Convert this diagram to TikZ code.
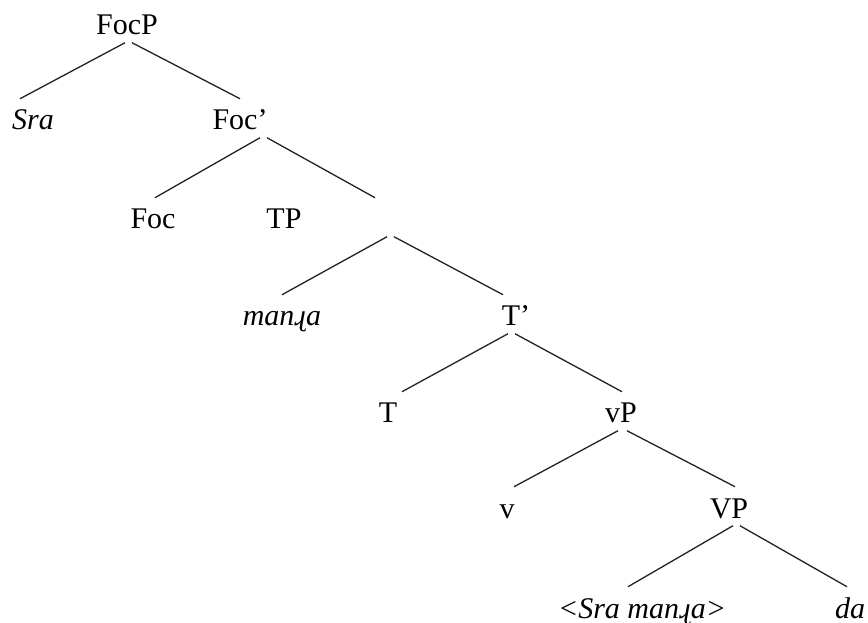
\documentclass[tikz,border=0pt]{standalone}
\usepackage{fontspec}
\setmainfont{Liberation Serif}
\usetikzlibrary{calc}

\tikzset{
  lbl/.style={anchor=base,inner sep=0pt,text height=23.25pt,text depth=5.6pt,
    font=\fontsize{22.5pt}{27pt}\selectfont},
  branch/.style={color=black!85,line width=1pt}
}

\begin{document}
\begin{tikzpicture}[x=0.75pt,y=0.75pt,yscale=-1,xscale=1]
\useasboundingbox (0,0) rectangle (868,623);

% Text Node
\node [lbl] (focp) at (127,35) {FocP};
\node [lbl] (sra) at (33,130) {\textit{Sra}};
\node [lbl] (focbar) at (240,130) {Foc’};
\node [lbl] (foc) at (153,229) {Foc};
\node [lbl] (tp) at (284,229) {TP};
\node [lbl] (tpnode) at (390,229) {};
\node [lbl] (manra) at (282,326) {\textit{manɻa}};
\node [lbl] (tbar) at (516,326) {T’};
\node [lbl] (t) at (388,423) {T};
\node [lbl] (vp) at (621,423) {vP};
\node [lbl] (v) at (507,518) {v};
\node [lbl] (bigvp) at (729,518) {VP};
\node [lbl] (trace) at (642,618) {\textit{<Sra manɻa>}};
\node [lbl] (da) at (850,618) {\textit{da}};

% Straight Lines
\draw [branch] ($(focp.south)+(-2,0)$) -- ($(sra.north)+(-13,0)$);
\draw [branch] ($(focp.south)+(5,0)$) -- (focbar.north);
\draw [branch] ($(focbar.south)+(20,0)$) -- ($(foc.north)+(2,0)$);
\draw [branch] ($(focbar.south)+(27,0)$) -- ($(tpnode.north)+(-15,0)$);
\draw [branch] ($(tpnode.south)+(-3,0)$) -- (manra.north);
\draw [branch] ($(tpnode.south)+(4,0)$) -- ($(tbar.north)+(-13,0)$);
\draw [branch] ($(tbar.south)+(-8,0)$) -- ($(t.north)+(14,0)$);
\draw [branch] ($(tbar.south)+(-1,0)$) -- ($(vp.north)+(1,0)$);
\draw [branch] ($(vp.south)+(-3,0)$) -- ($(v.north)+(7,0)$);
\draw [branch] ($(vp.south)+(6,0)$) -- ($(bigvp.north)+(6,0)$);
\draw [branch] ($(bigvp.south)+(4,0)$) -- ($(trace.north)+(-14,0)$);
\draw [branch] ($(bigvp.south)+(11,0)$) -- ($(da.north)+(-3,0)$);

\end{tikzpicture}
\end{document}
